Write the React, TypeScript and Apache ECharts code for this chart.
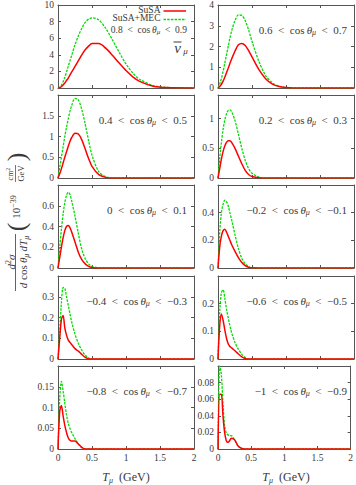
import React, { useEffect, useRef } from 'react';
import * as echarts from 'echarts';

// Muon kinetic energy grid (GeV)
const T = [0, 0.025, 0.05, 0.075, 0.1, 0.125, 0.15, 0.175, 0.2, 0.25, 0.3, 0.35, 0.4, 0.45, 0.5, 0.6, 0.7, 0.8, 0.9, 1.0, 1.1, 1.2, 1.4, 1.6, 2.0];

// cos(theta_mu) bins
const cosLow = ['0.8', '0.6', '0.4', '0.2', '0', '\u22120.2', '\u22120.4', '\u22120.6', '\u22120.8', '\u22121'];
const cosHigh = ['0.9', '0.7', '0.5', '0.3', '0.1', '\u22120.1', '\u22120.3', '\u22120.5', '\u22120.7', '\u22120.9'];

// y-axis ranges per panel
const yMax = [10, 4, 2, 1.4, 0.8, 0.6, 0.4, 0.3, 0.2, 0.1];
const yStep = [2, 1, 0.5, 0.5, 0.2, 0.2, 0.1, 0.1, 0.05, 0.02];
const xTicks = [0, 0.5, 1, 1.5, 2];
const legendNames = ['SuSA', 'SuSA+MEC'];

// SuSA (red) and SuSA+MEC (green) per bin, 10^-39 cm^2/GeV
const susa_08_09 = [0, 0.05, 0.15, 0.35, 0.6, 0.9, 1.2, 1.55, 1.9, 2.6, 3.3, 4.0, 4.6, 5.05, 5.35, 5.35, 4.8, 3.95, 3.0, 2.1, 1.35, 0.8, 0.22, 0.05, 0];
const mec_08_09 = [0, 0.1, 0.35, 0.75, 1.3, 1.9, 2.6, 3.25, 3.9, 5.2, 6.3, 7.2, 7.9, 8.3, 8.45, 8.2, 7.2, 5.8, 4.3, 2.9, 1.8, 1.05, 0.3, 0.07, 0];
const susa_06_07 = [0, 0.07, 0.18, 0.33, 0.52, 0.73, 0.95, 1.18, 1.4, 1.78, 2.08, 2.15, 2.05, 1.8, 1.5, 0.9, 0.45, 0.19, 0.07, 0.02, 0, 0, 0, 0, 0];
const mec_06_07 = [0, 0.2, 0.45, 0.8, 1.2, 1.6, 2.0, 2.4, 2.75, 3.25, 3.52, 3.5, 3.25, 2.8, 2.25, 1.3, 0.6, 0.25, 0.08, 0.02, 0, 0, 0, 0, 0];
const susa_04_05 = [0, 0.1, 0.22, 0.36, 0.5, 0.63, 0.76, 0.88, 0.97, 1.08, 1.06, 0.92, 0.7, 0.47, 0.28, 0.08, 0.015, 0, 0, 0, 0, 0, 0, 0, 0];
const mec_04_05 = [0, 0.25, 0.5, 0.75, 1.0, 1.22, 1.42, 1.6, 1.74, 1.92, 1.88, 1.65, 1.3, 0.9, 0.55, 0.15, 0.03, 0.005, 0, 0, 0, 0, 0, 0, 0];
const susa_02_03 = [0, 0.16, 0.32, 0.45, 0.54, 0.6, 0.63, 0.63, 0.6, 0.5, 0.37, 0.24, 0.13, 0.06, 0.025, 0.003, 0, 0, 0, 0, 0, 0, 0, 0, 0];
const mec_02_03 = [0, 0.33, 0.6, 0.82, 0.98, 1.08, 1.14, 1.15, 1.12, 0.97, 0.74, 0.5, 0.3, 0.16, 0.08, 0.015, 0, 0, 0, 0, 0, 0, 0, 0, 0];
const susa_00_01 = [0, 0.1, 0.2, 0.29, 0.36, 0.4, 0.41, 0.39, 0.35, 0.25, 0.15, 0.08, 0.04, 0.015, 0.005, 0, 0, 0, 0, 0, 0, 0, 0, 0, 0];
const mec_00_01 = [0, 0.2, 0.37, 0.52, 0.63, 0.7, 0.73, 0.71, 0.65, 0.5, 0.33, 0.18, 0.09, 0.04, 0.015, 0.002, 0, 0, 0, 0, 0, 0, 0, 0, 0];
const susa_m02_m01 = [0, 0.15, 0.23, 0.27, 0.28, 0.26, 0.23, 0.2, 0.17, 0.12, 0.075, 0.04, 0.018, 0.006, 0.001, 0, 0, 0, 0, 0, 0, 0, 0, 0, 0];
const mec_m02_m01 = [0, 0.26, 0.4, 0.46, 0.49, 0.48, 0.45, 0.4, 0.35, 0.24, 0.14, 0.07, 0.03, 0.01, 0.002, 0, 0, 0, 0, 0, 0, 0, 0, 0, 0];
const susa_m04_m03 = [0, 0.1, 0.19, 0.21, 0.15, 0.115, 0.092, 0.08, 0.07, 0.05, 0.038, 0.022, 0.008, 0.001, 0, 0, 0, 0, 0, 0, 0, 0, 0, 0, 0];
const mec_m04_m03 = [0, 0.13, 0.27, 0.345, 0.34, 0.3, 0.26, 0.22, 0.18, 0.12, 0.075, 0.042, 0.018, 0.004, 0, 0, 0, 0, 0, 0, 0, 0, 0, 0, 0];
const susa_m06_m05 = [0, 0.12, 0.163, 0.14, 0.105, 0.075, 0.055, 0.045, 0.04, 0.03, 0.018, 0.008, 0.002, 0, 0, 0, 0, 0, 0, 0, 0, 0, 0, 0, 0];
const mec_m06_m05 = [0, 0.17, 0.24, 0.25, 0.22, 0.18, 0.15, 0.12, 0.095, 0.06, 0.035, 0.017, 0.005, 0, 0, 0, 0, 0, 0, 0, 0, 0, 0, 0, 0];
const susa_m08_m07 = [0, 0.09, 0.105, 0.08, 0.057, 0.04, 0.027, 0.021, 0.019, 0.019, 0.012, 0.004, 0, 0, 0, 0, 0, 0, 0, 0, 0, 0, 0, 0, 0];
const mec_m08_m07 = [0, 0.12, 0.163, 0.14, 0.11, 0.082, 0.062, 0.05, 0.04, 0.025, 0.012, 0.003, 0, 0, 0, 0, 0, 0, 0, 0, 0, 0, 0, 0, 0];
const susa_m10_m09 = [0, 0.066, 0.066, 0.04, 0.02, 0.01, 0.008, 0.01, 0.013, 0.011, 0.004, 0.001, 0, 0, 0, 0, 0, 0, 0, 0, 0, 0, 0, 0, 0];
const mec_m10_m09 = [0, 0.1, 0.09, 0.055, 0.028, 0.019, 0.017, 0.016, 0.016, 0.011, 0.004, 0.001, 0, 0, 0, 0, 0, 0, 0, 0, 0, 0, 0, 0, 0];

const susaSets = [susa_08_09, susa_06_07, susa_04_05, susa_02_03, susa_00_01, susa_m02_m01, susa_m04_m03, susa_m06_m05, susa_m08_m07, susa_m10_m09];
const mecSets = [mec_08_09, mec_06_07, mec_04_05, mec_02_03, mec_00_01, mec_m02_m01, mec_m04_m03, mec_m06_m05, mec_m08_m07, mec_m10_m09];

const serif = "'Liberation Serif', 'DejaVu Serif', serif";
const RED = '#ff0000';
const GREEN = '#00dd00';
const FRAME = '#555555';
const TXT = '#3a3a3a';
const GREEN_DASH = [2.5, 1.2];

const colLeft = [58, 218];
const rowTop = [5, 95, 185, 276, 366];
const W = 136;
const H = 83;

function richSet(fs: number) {
  return {
    n: { fontFamily: serif, fontSize: fs, fill: TXT, lineHeight: fs + 3 },
    i: { fontFamily: serif, fontStyle: 'italic', fontSize: fs, fill: TXT, lineHeight: fs + 3 },
    s: { fontFamily: serif, fontStyle: 'italic', fontSize: Math.round(fs * 0.7), fill: TXT, lineHeight: Math.round(fs * 0.7), verticalAlign: 'bottom' },
    sup: { fontFamily: serif, fontSize: Math.round(fs * 0.7), fill: TXT, lineHeight: Math.round(fs * 0.7), verticalAlign: 'top' },
  };
}

function buildOption() {
  const grid: any[] = [];
  const xAxis: any[] = [];
  const yAxis: any[] = [];
  const series: any[] = [];
  const graphic: any[] = [];
  const axisCommon = {
    axisLine: { show: true, onZero: false, lineStyle: { color: FRAME, width: 1 } },
    axisTick: { show: true, inside: true, length: 3, lineStyle: { color: FRAME, width: 1 } },
    splitLine: { show: false },
  };
  for (let i = 0; i < 10; i++) {
    const col = i % 2;
    const row = Math.floor(i / 2);
    grid.push({ left: colLeft[col], top: rowTop[row], width: W, height: H });
    const xBase = { type: 'value', gridIndex: i, min: xTicks[0], max: xTicks[xTicks.length - 1], interval: xTicks[1] - xTicks[0] };
    xAxis.push({
      ...xBase, position: 'bottom', ...axisCommon,
      axisLabel: { show: row === 4, margin: 4, fontFamily: serif, fontSize: 9.5, color: TXT },
    });
    xAxis.push({ ...xBase, position: 'top', ...axisCommon, axisLabel: { show: false } });
    const yBase = { type: 'value', gridIndex: i, min: 0, max: yMax[i], interval: yStep[i] };
    yAxis.push({
      ...yBase, position: 'left', ...axisCommon,
      axisLabel: { show: true, showMaxLabel: row === 0, margin: 4, fontFamily: serif, fontSize: 9.5, color: TXT },
    });
    yAxis.push({ ...yBase, position: 'right', ...axisCommon, axisLabel: { show: false } });

    series.push({
      type: 'line', name: legendNames[1], xAxisIndex: 2 * i, yAxisIndex: 2 * i,
      data: T.map((t, k) => [t, mecSets[i][k]]),
      symbol: 'none', smooth: 0.3, z: 2,
      lineStyle: { color: GREEN, width: 1.3, type: GREEN_DASH },
      itemStyle: { color: GREEN },
    });
    series.push({
      type: 'line', name: legendNames[0], xAxisIndex: 2 * i, yAxisIndex: 2 * i,
      data: T.map((t, k) => [t, susaSets[i][k]]),
      symbol: 'none', smooth: 0.3, z: 3,
      lineStyle: { color: RED, width: 1.5 },
      itemStyle: { color: RED },
    });

    const fs = i === 0 ? 9.5 : 11;
    graphic.push({
      type: 'text',
      x: colLeft[col] + W - 7,
      y: rowTop[row] + (i === 0 ? 24.5 : 24.5),
      style: {
        text: `{n|${cosLow[i]}\u2002<\u2002cos\u2009}{i|\u03b8}{s|\u03bc}{n|\u2002<\u2002${cosHigh[i]}}`,
        align: 'right', verticalAlign: 'middle',
        fontFamily: serif, fontSize: fs, fill: TXT,
        rich: richSet(fs),
      },
    });
  }

  // legend (text left of line sample, as in the reference)
  const legendY = [9.5, 18];
  const legendStyles = [
    { stroke: RED, lineWidth: 1.5 },
    { stroke: GREEN, lineWidth: 1.3, lineDash: GREEN_DASH },
  ];
  legendNames.forEach((name, k) => {
    graphic.push({ type: 'text', x: 160.5, y: legendY[k], style: { text: name, align: 'right', verticalAlign: 'middle', fontFamily: serif, fontSize: 9.5, fill: TXT } });
    graphic.push({ type: 'line', shape: { x1: 163.5, y1: legendY[k] + 1.5, x2: 186, y2: legendY[k] + 1.5 }, style: legendStyles[k] });
  });

  // nu-bar mu label
  graphic.push({ type: 'text', x: 177.5, y: 48, style: { text: '\u03bd', fontFamily: serif, fontStyle: 'italic', fontSize: 15, fill: TXT, align: 'center', verticalAlign: 'middle' } });
  graphic.push({ type: 'text', x: 185.5, y: 51, style: { text: '\u03bc', fontFamily: serif, fontStyle: 'italic', fontSize: 9, fill: TXT, align: 'center', verticalAlign: 'middle' } });
  graphic.push({ type: 'line', shape: { x1: 173.5, y1: 42, x2: 181.5, y2: 42 }, style: { stroke: TXT, lineWidth: 1 } });

  // x-axis titles
  for (const cx of [colLeft[0] + W / 2, colLeft[1] + W / 2]) {
    graphic.push({
      type: 'text', x: cx, y: 477,
      style: { text: '{i|T}{s|\u03bc}{n|\u2002(GeV)}', align: 'center', verticalAlign: 'middle', fontFamily: serif, fontSize: 12, fill: TXT, rich: richSet(12) },
    });
  }

  // y-axis title (rotated)
  const fr = richSet(11);
  const sm = richSet(8);
  graphic.push({
    type: 'group', x: 19, y: 221, rotation: Math.PI / 2,
    children: [
      { type: 'text', x: -41, y: -8, style: { text: '{i|d}{sup|2}{i|\u03c3}', align: 'center', verticalAlign: 'middle', fontFamily: serif, fontSize: 11, fill: TXT, rich: fr } },
      { type: 'line', shape: { x1: -70, y1: -3.5, x2: -13, y2: -3.5 }, style: { stroke: TXT, lineWidth: 0.8 } },
      { type: 'text', x: -41, y: 4, style: { text: '{i|d}{n| cos\u2009}{i|\u03b8}{s|\u03bc}{n|\u2009}{i|dT}{s|\u03bc}', align: 'center', verticalAlign: 'middle', fontFamily: serif, fontSize: 11, fill: TXT, rich: fr } },
      { type: 'text', x: -6, y: -3, style: { text: '(', align: 'center', verticalAlign: 'middle', fontFamily: serif, fontSize: 26, fill: TXT } },
      { type: 'text', x: 14, y: -3, style: { text: '{n|10}{sup|\u221239}', align: 'center', verticalAlign: 'middle', fontFamily: serif, fontSize: 11, fill: TXT, rich: fr } },
      { type: 'text', x: 47, y: -8.5, style: { text: '{n|cm}{sup|2}', align: 'center', verticalAlign: 'middle', fontFamily: serif, fontSize: 8.5, fill: TXT, rich: sm } },
      { type: 'line', shape: { x1: 39, y1: -3.5, x2: 56, y2: -3.5 }, style: { stroke: TXT, lineWidth: 0.7 } },
      { type: 'text', x: 47.5, y: 2, style: { text: 'GeV', align: 'center', verticalAlign: 'middle', fontFamily: serif, fontSize: 8.5, fill: TXT } },
      { type: 'text', x: 64, y: -3, style: { text: ')', align: 'center', verticalAlign: 'middle', fontFamily: serif, fontSize: 26, fill: TXT } },
    ],
  });

  return {
    animation: false,
    backgroundColor: '#ffffff',
    grid, xAxis, yAxis, series, graphic,
  };
}

export default function App() {
  const ref = useRef<HTMLDivElement>(null);
  useEffect(() => {
    document.body.style.margin = '0';
    const chart = echarts.init(ref.current!, null, { renderer: 'svg' });
    chart.setOption(buildOption() as any);
    return () => chart.dispose();
  }, []);
  return <div ref={ref} style={{ width: 356, height: 485 }} />;
}
